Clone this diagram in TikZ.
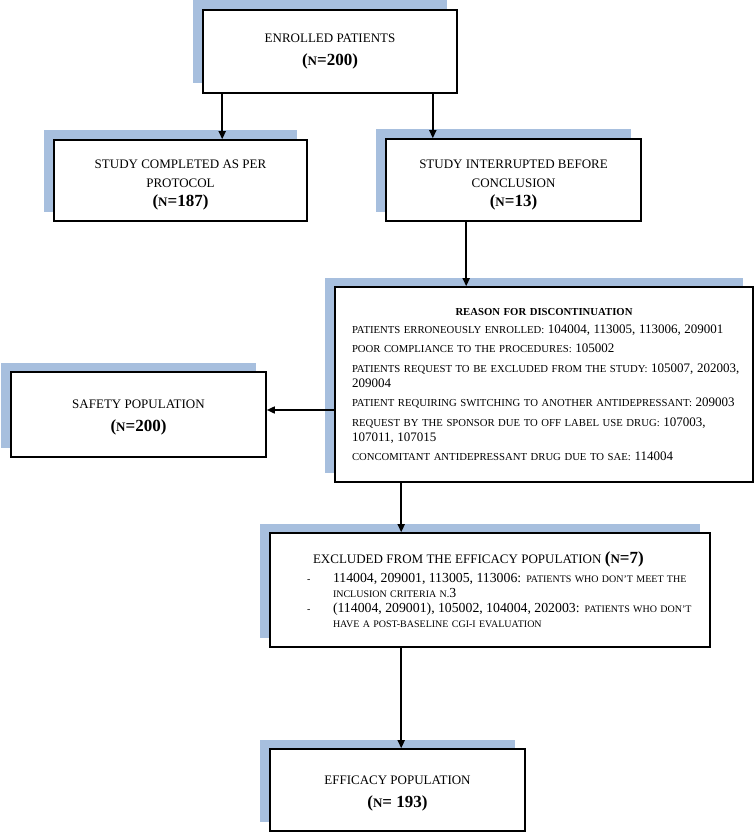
\documentclass[tikz,border=0pt]{standalone}
\usepackage{fontspec}
\setmainfont{Liberation Serif}
\usetikzlibrary{arrows.meta,shadows}

\definecolor{shadowblue}{HTML}{A7BFDE}
% (N=...) with a small-capital N
\newcommand{\nval}[1]{{\bfseries\fontsize{17}{18}\selectfont(\fontsize{13}{18}\selectfont N\fontsize{17}{18}\selectfont=#1)}}
% patient codes, set larger than the small capitals round them
\newcommand{\dg}[1]{{\fontsize{13}{15}\selectfont #1}}
\newcommand{\dgx}[1]{{\fontsize{13.8}{15}\selectfont #1}}

\begin{document}
\begin{tikzpicture}[x=1pt,y=-1pt,>={Triangle[length=8pt,width=7pt]},
	box/.style={draw,line width=1.6pt,fill=white,align=center,font=\fontsize{13}{18}\selectfont,
		drop shadow={shadow xshift=-10pt,shadow yshift=9.5pt,fill=shadowblue,opacity=1}},
	arr/.style={->,line width=1.6pt}]
	\useasboundingbox (0,0) rectangle (754,832);
	\node[box,minimum width=254pt,minimum height=83pt] (enrolled) at (330,51.5) {ENROLLED PATIENTS\\[5pt]\nval{200}};
	\node[box,minimum width=253pt,minimum height=81pt] (completed) at (180.5,180.5) {\rule{0pt}{18pt}STUDY COMPLETED AS PER\\[1pt]PROTOCOL\\[1pt]\nval{187}};
	\node[box,minimum width=255pt,minimum height=82pt] (interrupted) at (513.5,180) {\rule{0pt}{18pt}STUDY INTERRUPTED BEFORE\\[1pt]CONCLUSION\\[1pt]\nval{13}};
	\node[box,align=left,text width=400pt,inner xsep=0pt,minimum width=418pt,minimum height=195pt,
		font=\fontsize{10.7}{15}\selectfont] (reason) at (544,384.5) {\leftskip=8pt\relax
		\makebox[384pt]{\bfseries REASON FOR DISCONTINUATION}\\[3pt]
		PATIENTS ERRONEOUSLY ENROLLED: \dg{104004, 113005, 113006, 209001}\\[4.5pt]
		POOR COMPLIANCE TO THE PROCEDURES: \dg{105002}\\[4.5pt]
		PATIENTS REQUEST TO BE EXCLUDED FROM THE STUDY: \dg{105007, 202003,}\\
		\dg{209004}\\[4.5pt]
		PATIENT REQUIRING SWITCHING TO ANOTHER ANTIDEPRESSANT: \dg{209003}\\[4.5pt]
		REQUEST BY THE SPONSOR DUE TO OFF LABEL USE DRUG: \dg{107003,}\\
		\dg{107011, 107015}\\[4.5pt]
		CONCOMITANT ANTIDEPRESSANT DRUG DUE TO SAE: \dg{114004}\par};
	\node[box,minimum width=255pt,minimum height=85pt] (safety) at (138.5,414.5) {\rule{0pt}{15pt}SAFETY POPULATION\\[5pt]\nval{200}};
	\node[box,align=left,text width=420pt,inner xsep=0pt,minimum width=440pt,minimum height=114pt,
		font=\fontsize{10}{15}\selectfont] (excluded) at (490,590) {\leftskip=27pt\relax
		\hspace*{6pt}{\fontsize{13}{15}\selectfont EXCLUDED FROM THE EFFICACY POPULATION }\nval{7}\\[4pt]
		\makebox[26pt][l]{-}\dgx{114004, 209001, 113005, 113006:} PATIENTS WHO DON’T MEET THE\\
		\hspace*{26pt}INCLUSION CRITERIA N.\dgx{3}\\
		\makebox[26pt][l]{-}\dgx{(114004, 209001), 105002, 104004, 202003:} PATIENTS WHO DON’T\\
		\hspace*{26pt}HAVE A POST-BASELINE CGI-I EVALUATION\par\vspace*{10pt}};
	\node[box,minimum width=255pt,minimum height=82pt] (efficacy) at (397.5,790) {\rule{0pt}{15pt}EFFICACY POPULATION\\[5pt]\nval{ 193}};

	\coordinate (a1) at ([xshift=20pt]enrolled.south west);
	\coordinate (a2) at ([xshift=-25pt]enrolled.south east);
	\coordinate (a3) at ([xshift=81pt]interrupted.south west);
	\coordinate (a4) at ([yshift=-25.5pt]reason.west);
	\coordinate (a5) at ([xshift=67pt]reason.south west);
	\coordinate (a6) at ([xshift=132pt]excluded.south west);
	\draw[arr] (a1) -- (a1 |- completed.north);
	\draw[arr] (a2) -- (a2 |- interrupted.north);
	\draw[arr] (a3) -- (a3 |- reason.north);
	\draw[arr] (a4) -- (a4 -| safety.east);
	\draw[arr] (a5) -- (a5 |- excluded.north);
	\draw[arr] (a6) -- (a6 |- efficacy.north);
\end{tikzpicture}
\end{document}
